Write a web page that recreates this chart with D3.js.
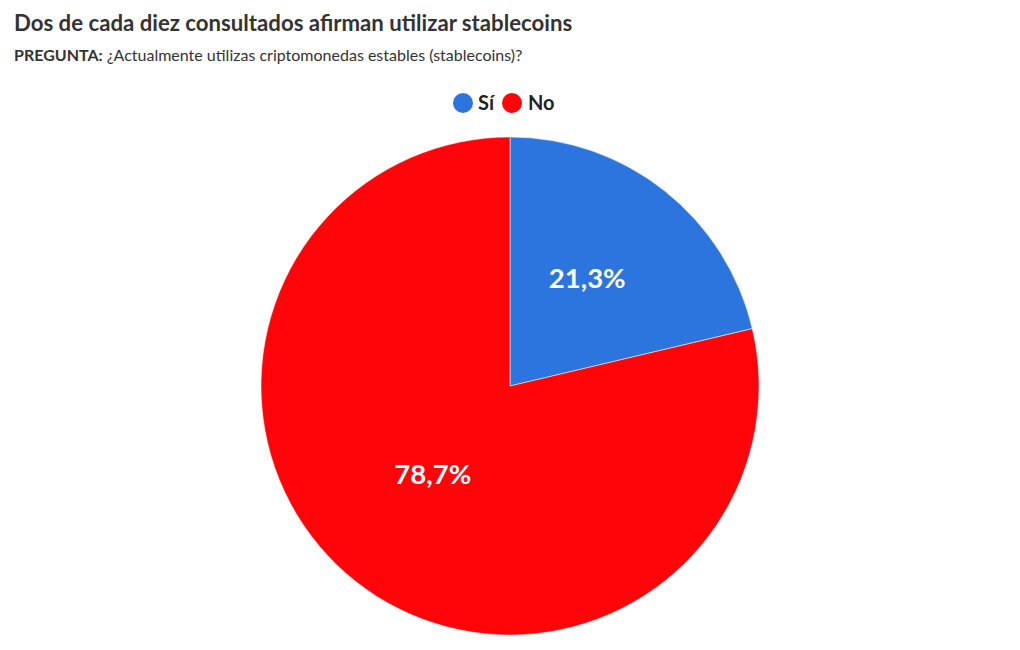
<!DOCTYPE html>
<html>
<head>
<meta charset="utf-8">
<script src="https://cdn.jsdelivr.net/npm/d3@7"></script>
<style>
  body { margin: 0; background: #fff; font-family: Lato, "Noto Sans", sans-serif; }
  svg { display: block; }
</style>
</head>
<body>
<svg id="chart" width="1020" height="650"></svg>
<script>
const categories = ["Sí", "No"];
const values = [21.3, 78.7];
const colors = ["#2c75de", "#ff0509"];
const title = "Dos de cada diez consultados afirman utilizar stablecoins";
const subtitleBold = "PREGUNTA:";
const subtitleText = " ¿Actualmente utilizas criptomonedas estables (stablecoins)?";

const svg = d3.select("#chart");
const font = "Lato, 'Noto Sans', sans-serif";

svg.append("text").attr("x", 14).attr("y", 31)
  .attr("font-family", font).attr("font-weight", 700).attr("font-size", 22.2)
  .attr("fill", "#333").text(title);

const sub = svg.append("text").attr("x", 14).attr("y", 61)
  .attr("font-family", font).attr("font-size", 16).attr("fill", "#333");
sub.append("tspan").attr("font-weight", 700).text(subtitleBold);
sub.append("tspan").text(subtitleText);

// Legend
const legend = svg.append("g").attr("transform", "translate(0,103)");
const legItems = [{x: 463, tx: 478}, {x: 512, tx: 528}];
categories.forEach((c, i) => {
  legend.append("circle").attr("cx", legItems[i].x).attr("cy", 0).attr("r", 10).attr("fill", colors[i]);
  legend.append("text").attr("x", legItems[i].tx).attr("y", 7)
    .attr("font-family", font).attr("font-weight", 700).attr("font-size", 20)
    .attr("fill", "#222").text(c);
});

const cx = 510, cy = 386, r = 249;
const pie = d3.pie().sort(null).value(d => d)(values);
const arc = d3.arc().innerRadius(0).outerRadius(r);
const labelArc = d3.arc().innerRadius(r * 0.5).outerRadius(r * 0.5);
const color = d3.scaleOrdinal().domain(d3.range(values.length)).range(colors);

const g = svg.append("g").attr("transform", `translate(${cx},${cy})`);
g.selectAll("path").data(pie).join("path")
  .attr("d", arc).attr("fill", (d, i) => color(i))
  .attr("stroke", "#fff").attr("stroke-width", 0.5);

g.selectAll("text.lbl").data(pie).join("text").attr("class", "lbl")
  .attr("transform", d => `translate(${labelArc.centroid(d)})`)
  .attr("text-anchor", "middle").attr("dy", "0")
  .attr("font-family", font).attr("font-weight", 700).attr("font-size", 27.5)
  .attr("fill", "#fff")
  .text(d => d3.format(".1f")(d.data).replace(".", ",") + "%");
</script>
</body>
</html>
